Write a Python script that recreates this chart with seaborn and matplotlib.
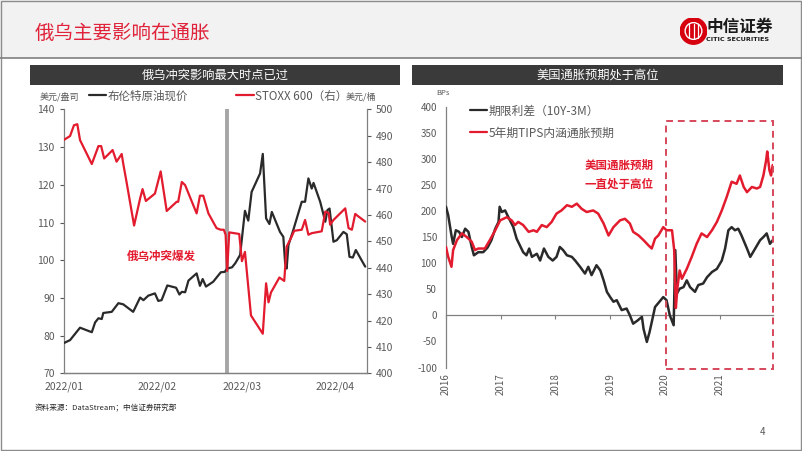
import numpy as np
import pandas as pd
import matplotlib
matplotlib.use('Agg')
import matplotlib.pyplot as plt
import seaborn as sns
from matplotlib.patches import Rectangle, Circle
from matplotlib.lines import Line2D

# ---------------- data ----------------
# Left chart: days after 2022-01-01
brent_day = [0, 2.1, 3.7, 5.4, 9.3, 10.4, 11.5, 12.6, 13.1, 15.9, 18.1, 19.7, 23.0, 25.3, 26.4,
             28.0, 30.2, 31.3, 32.4, 34.3, 37.2, 38.3, 39.1, 40.2, 41.3, 44.0, 45.1, 46.0, 47.1,
             49.5, 52.0, 53.3, 54.1, 55.7, 56.8, 58.4, 60.0, 61.1, 62.2, 65.0, 65.9, 67.0, 68.1,
             68.9, 71.6, 72.7, 73.3, 73.8, 74.4, 76.0, 78.8, 79.9, 81.0, 82.1, 82.7, 84.9, 86.6,
             87.3, 88.0, 89.3, 90.4, 92.6, 93.7, 94.6, 95.7, 96.7, 99.8]
brent = [78.0, 78.8, 80.4, 82.1, 80.9, 83.5, 84.6, 84.4, 86.0, 86.3, 88.6, 88.3, 86.3, 90.1, 89.4,
         90.6, 91.2, 89.2, 89.4, 93.3, 92.7, 90.9, 91.6, 91.5, 94.6, 96.5, 93.2, 95.0, 93.0,
         94.3, 96.8, 96.9, 97.8, 98.1, 99.2, 101.4, 113.1, 110.5, 118.1, 123.0, 128.2, 111.1, 109.6,
         112.8, 107.5, 106.2, 99.2, 97.8, 104.0, 108.0, 115.5, 115.5, 121.7, 119.0, 120.5, 115.5, 110.2,
         113.3, 113.7, 104.9, 105.3, 107.5, 106.9, 100.9, 100.7, 102.7, 98.3]
stoxx_day = [0, 2.1, 3.4, 4.5, 5.4, 9.3, 11.5, 12.4, 13.4, 16.2, 17.5, 19.2, 19.7, 20.8, 23.3,
             25.3, 26.1, 27.2, 30.2, 32.1, 34.1, 37.4, 37.9, 39.1, 40.2, 44.0, 45.1, 46.2, 47.9,
             50.6, 52.0, 53.0, 53.6, 54.1, 54.8, 58.1, 59.0, 60.0, 62.0, 65.9, 67.0, 67.8, 68.6,
             71.4, 73.0, 73.8, 75.5, 76.3, 78.8, 79.9, 81.0, 82.1, 85.4, 86.6, 87.7, 88.2, 89.3,
             93.2, 94.3, 95.4, 96.5, 97.6, 99.8]
stoxx = [488.4, 489.9, 494.0, 494.4, 488.4, 479.3, 486.1, 486.1, 481.4, 484.6, 480.2, 483.1, 479.5, 472.5, 456.0,
         466.3, 469.8, 465.3, 468.1, 476.5, 461.5, 465.0, 465.0, 472.5, 471.3, 460.6, 467.3, 467.3, 460.6,
         455.0, 454.4, 454.4, 452.5, 438.8, 453.4, 452.8, 442.5, 446.0, 421.9, 415.0, 434.1, 426.9, 430.6,
         436.3, 435.0, 448.0, 451.9, 454.0, 454.4, 458.1, 452.5, 453.1, 453.8, 461.3, 460.7, 456.3, 458.1,
         462.5, 455.0, 454.4, 460.4, 459.4, 457.5]
left_ticks = ['2022-01-01', '2022-02-01', '2022-03-01', '2022-04-01']
left_tick_labels = ['2022/01', '2022/02', '2022/03', '2022/04']
conflict_date = '2022-02-24'

# Right chart: decimal years
spread_year = [2016.00, 2016.04, 2016.10, 2016.13, 2016.18, 2016.24, 2016.29, 2016.35, 2016.41, 2016.47,
               2016.51, 2016.59, 2016.68, 2016.76, 2016.83, 2016.90, 2016.96, 2016.98, 2017.02, 2017.08,
               2017.14, 2017.23, 2017.29, 2017.35, 2017.41, 2017.47, 2017.52, 2017.57, 2017.66, 2017.72,
               2017.79, 2017.87, 2017.95, 2018.02, 2018.08, 2018.14, 2018.21, 2018.30, 2018.36, 2018.45,
               2018.54, 2018.60, 2018.66, 2018.75, 2018.82, 2018.88, 2018.94, 2019.00, 2019.06, 2019.12,
               2019.21, 2019.30, 2019.36, 2019.42, 2019.50, 2019.58, 2019.61, 2019.67, 2019.72, 2019.76,
               2019.82, 2019.90, 2019.97, 2020.03, 2020.09, 2020.16, 2020.19, 2020.22, 2020.27, 2020.34,
               2020.40, 2020.46, 2020.55, 2020.61, 2020.70, 2020.77, 2020.86, 2020.95, 2021.04, 2021.10,
               2021.16, 2021.22, 2021.28, 2021.34, 2021.40, 2021.50, 2021.56, 2021.65, 2021.74, 2021.80,
               2021.86, 2021.92, 2021.97]
spread = [208, 192, 153, 137, 163, 160, 150, 166, 160, 131,
          115, 121, 121, 130, 144, 166, 179, 208, 198, 201,
          188, 169, 147, 134, 121, 115, 128, 112, 118, 105,
          128, 112, 105, 112, 131, 125, 115, 112, 105, 93,
          80, 93, 77, 96, 86, 67, 45, 35, 26, 29,
          10, 13, 0, -16, -10, -3, -26, -51, -32, -13,
          16, 26, 35, 29, 0, -19, 125, 42, 51, 54,
          67, 54, 45, 58, 61, 73, 83, 89, 105, 128,
          163, 169, 163, 166, 153, 128, 112, 128, 144, 150,
          157, 137, 144]
tips_year = [2016.00, 2016.04, 2016.10, 2016.13, 2016.20, 2016.29, 2016.38, 2016.47, 2016.53, 2016.59,
             2016.71, 2016.80, 2016.90, 2016.99, 2017.11, 2017.20, 2017.26, 2017.32, 2017.41, 2017.51,
             2017.60, 2017.66, 2017.75, 2017.84, 2017.93, 2018.02, 2018.11, 2018.21, 2018.30, 2018.39,
             2018.48, 2018.57, 2018.69, 2018.78, 2018.88, 2018.97, 2019.06, 2019.18, 2019.27, 2019.36,
             2019.42, 2019.52, 2019.61, 2019.70, 2019.76, 2019.82, 2019.88, 2019.97, 2020.03, 2020.13,
             2020.17, 2020.20, 2020.23, 2020.27, 2020.31, 2020.40, 2020.49, 2020.58, 2020.67, 2020.77,
             2020.86, 2020.95, 2021.04, 2021.13, 2021.22, 2021.31, 2021.37, 2021.44, 2021.50, 2021.59,
             2021.68, 2021.74, 2021.80, 2021.85, 2021.87, 2021.91, 2021.94, 2021.97]
tips = [131, 112, 93, 125, 144, 157, 150, 141, 125, 128,
        128, 144, 163, 182, 188, 182, 173, 179, 173, 160,
        163, 160, 173, 169, 179, 195, 201, 211, 208, 214,
        204, 198, 201, 195, 176, 153, 169, 182, 185, 176,
        160, 153, 144, 134, 128, 147, 153, 169, 163, 163,
        125, 14, 54, 86, 70, 89, 112, 137, 157, 150,
        163, 179, 201, 227, 256, 252, 268, 246, 236, 246,
        243, 246, 268, 297, 314, 278, 268, 288]
right_years = [2016, 2017, 2018, 2019, 2020, 2021]
right_yticks = [-100, -50, 0, 50, 100, 150, 200, 250, 300, 350, 400]

# ---------------- style ----------------
sns.set_style('white')
plt.rcParams['font.family'] = ['Noto Sans CJK SC', 'DejaVu Sans']
plt.rcParams['axes.unicode_minus'] = False

RED = '#e31b2e'
BLACK = '#2a2a2a'
GRAY_TXT = '#595959'
SPINE = '#808080'

W, H = 802, 451
fig = plt.figure(figsize=(W / 100, H / 100), dpi=100)
fig.patch.set_facecolor('white')


def fx(x):
    return x / W


def fy(y):
    return 1 - y / H


def ax_rect(x0, y0, x1, y1):
    return [fx(x0), fy(y1), (x1 - x0) / W, (y1 - y0) / H]


# header
fig.patches.append(Rectangle((0, fy(58)), 1, 58 / H, transform=fig.transFigure,
                             facecolor='#f2f2f2', edgecolor='none', zorder=-5))
fig.add_artist(Line2D([0, 1], [fy(58.5), fy(58.5)], color='#7f7f7f', lw=1.2))
fig.patches.append(Rectangle((0.001, 0.002), 0.998, 0.996, transform=fig.transFigure,
                             facecolor='none', edgecolor='#8c8c8c', lw=1.0, zorder=-4))
fig.text(fx(35), fy(33), '俄乌主要影响在通胀', fontsize=14, color='#e0233a', va='center', ha='left')

# logo
lax = fig.add_axes(ax_rect(680, 17, 707, 45), zorder=3)
lax.set_xlim(-1, 1); lax.set_ylim(-1, 1); lax.set_aspect('equal'); lax.axis('off')
lax.add_patch(Circle((0, 0), 0.98, color='#d7000f'))
lax.add_patch(Circle((0, 0), 0.62, facecolor='none', edgecolor='white', lw=1.0))
for xx in (-0.3, 0.0, 0.3):
    lax.plot([xx, xx], [-0.55, 0.55], color='white', lw=0.9)
fig.text(fx(706), fy(27), '中信证券', fontsize=12, fontweight='bold', color='#1a1a1a', va='center')
fig.text(fx(706), fy(39.5), 'CITIC SECURITIES', fontsize=4.6, fontweight='bold', color='#1a1a1a', va='center',
         family=['DejaVu Sans'])

# title bars
for (x0, x1, txt) in [(30, 400, '俄乌冲突影响最大时点已过'), (412, 783, '美国通胀预期处于高位')]:
    fig.patches.append(Rectangle((fx(x0), fy(85)), (x1 - x0) / W, 20 / H, transform=fig.transFigure,
                                 facecolor='#3a3a3a', edgecolor='none'))
    fig.text(fx((x0 + x1) / 2), fy(75), txt, color='white', fontsize=8.8, ha='center', va='center')

# ---------------- left chart ----------------
base = pd.Timestamp('2022-01-01')
dates_b = base + pd.to_timedelta(brent_day, unit='D')
dates_s = base + pd.to_timedelta(stoxx_day, unit='D')

axL = fig.add_axes(ax_rect(63.7, 109.4, 366.7, 373.3))
axL.set_facecolor('none')
axL.axvline(pd.Timestamp(conflict_date), color='#a6a6a6', lw=2.8, zorder=1)
sns.lineplot(x=dates_b, y=brent, ax=axL, color=BLACK, lw=1.6, zorder=3)
axL.set_ylim(70, 140)
axL.set_xlim(base, base + pd.Timedelta(days=100.3))
axL.set_yticks(range(70, 141, 10))
axL.set_xticks(pd.to_datetime(left_ticks))
axL.set_xticklabels(left_tick_labels)
axL.set_xlabel(''); axL.set_ylabel('')

axR = axL.twinx()
sns.lineplot(x=dates_s, y=stoxx, ax=axR, color=RED, lw=1.6, zorder=2)
axR.set_ylim(400, 500)
axR.set_yticks(range(400, 501, 10))
axR.set_xlim(base, base + pd.Timedelta(days=100.3))
axR.set_xlabel(''); axR.set_ylabel('')

for a in (axL, axR):
    a.spines['top'].set_visible(False)
    for s in ('left', 'right', 'bottom'):
        a.spines[s].set_color(SPINE)
        a.spines[s].set_linewidth(0.9)
    a.tick_params(axis='both', labelsize=7.5, colors=GRAY_TXT, length=3, width=0.8, direction='out')
    a.grid(False)
axR.spines['left'].set_visible(False)
axL.spines['right'].set_visible(False)
axL.tick_params(axis='x', pad=3)

hL = [Line2D([], [], color=BLACK, lw=1.6), Line2D([], [], color=RED, lw=1.6)]
axL.legend(hL, ['布伦特原油现价', 'STOXX 600（右）'], ncol=2, loc='center',
           bbox_to_anchor=(fx(218), fy(96)), bbox_transform=fig.transFigure, frameon=False,
           fontsize=8.3, handlelength=1.5, handletextpad=0.1, columnspacing=4.2,
           labelcolor=GRAY_TXT)
fig.text(fx(40), fy(97), '美元/盎司', fontsize=6.5, color=GRAY_TXT, va='center')
fig.text(fx(346), fy(97), '美元/桶', fontsize=6.5, color=GRAY_TXT, va='center')
fig.text(fx(161), fy(256), '俄乌冲突爆发', color=RED, fontsize=8.3, fontweight='bold', ha='center', va='center')

# ---------------- right chart ----------------
ax2 = fig.add_axes(ax_rect(446, 106.6, 772.7, 367.5))
ax2.set_facecolor('none')
sns.lineplot(x=spread_year, y=spread, ax=ax2, color=BLACK, lw=1.8, zorder=3)
sns.lineplot(x=tips_year, y=tips, ax=ax2, color=RED, lw=1.8, zorder=4)
ax2.set_xlim(2016.0, 2021.97)
ax2.set_ylim(-100, 400)
ax2.set_yticks(right_yticks)
ax2.set_xticks(right_years)
ax2.set_xticklabels([str(y) for y in right_years], rotation=90)
ax2.set_xlabel(''); ax2.set_ylabel('')
for s in ('top', 'right', 'bottom'):
    ax2.spines[s].set_visible(False)
ax2.spines['left'].set_color(SPINE)
ax2.spines['left'].set_linewidth(0.9)
ax2.tick_params(axis='y', labelsize=7, colors=GRAY_TXT, length=3, width=0.8, direction='out')
ax2.tick_params(axis='x', labelsize=7, colors=GRAY_TXT, length=0, pad=4)
ax2.grid(False)

sec = ax2.secondary_xaxis(0.2)
sec.set_xticks(right_years)
sec.set_xticklabels([])
sec.tick_params(length=3, width=0.8, color=SPINE, direction='out')
sec.spines['bottom'].set_color(SPINE)
sec.spines['bottom'].set_linewidth(0.9)

ax2.add_patch(Rectangle((2020.02, -103), 2021.97 - 2020.02, 476, fill=False, edgecolor='#d6485a',
                        lw=1.4, ls=(0, (3.5, 2.5)), clip_on=False, zorder=5))

h2 = [Line2D([], [], color=BLACK, lw=1.6), Line2D([], [], color=RED, lw=1.6)]
ax2.legend(h2, ['期限利差（10Y-3M）', '5年期TIPS内涵通胀预期'], loc='upper left',
           bbox_to_anchor=(fx(459), fy(94)), bbox_transform=fig.transFigure, frameon=False,
           fontsize=8.5, handlelength=1.5, handletextpad=0.1, labelspacing=0.75,
           labelcolor=GRAY_TXT)
fig.text(fx(443), fy(93), 'BPs', fontsize=5.5, color=GRAY_TXT, ha='center', va='center')
fig.text(fx(619), fy(175), '美国通胀预期\n一直处于高位', color=RED, fontsize=8.3, fontweight='bold',
         ha='center', va='center', linespacing=1.6)

# footer
fig.text(fx(35), fy(408), '资料来源：DataStream；中信证券研究部', fontsize=5.5, color='#262626', va='center')
fig.text(fx(762), fy(432), '4', fontsize=7, color=GRAY_TXT, va='center', ha='center')

fig.savefig('out.png', dpi=100)
